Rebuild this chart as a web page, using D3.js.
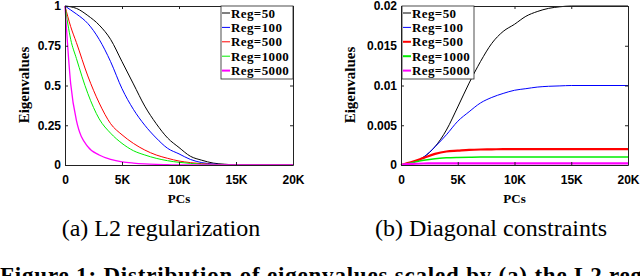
<!DOCTYPE html>
<html>
<head>
<meta charset="utf-8">
<script src="https://cdn.jsdelivr.net/npm/d3@7"></script>
<style>
  body { margin: 0; background: #fff; }
  svg { display: block; font-family: "Liberation Serif", "DejaVu Serif", serif; }
  .tick text { font-size: 12px; font-weight: bold; fill: #000; }
  .tick line { stroke: #222; }
  .domain { stroke: #222; }
</style>
</head>
<body>
<svg id="fig" width="640" height="276"></svg>
<script>
// data (PCs in units, eigenvalue)
var pcs = [0, 500, 1000, 2000, 3000, 4000, 5000, 6000, 7000, 8000, 9000, 10000, 11000, 12000, 13000, 14000, 15000, 20000];
var regNames = ["Reg=50", "Reg=100", "Reg=500", "Reg=1000", "Reg=5000"];
var regColors = ["#000000", "#0000ff", "#ff0000", "#00ee00", "#ff00ff"];

// (a) L2 regularization
var l2_reg50   = [1, 0.995, 0.985, 0.94, 0.88, 0.79, 0.65, 0.51, 0.37, 0.26, 0.17, 0.11, 0.055, 0.03, 0.012, 0.005, 0.001, 0];
var l2_reg100  = [1, 0.975, 0.95, 0.89, 0.79, 0.65, 0.48, 0.35, 0.25, 0.17, 0.105, 0.07, 0.035, 0.015, 0.006, 0.002, 0, 0];
var l2_reg500  = [1, 0.87, 0.77, 0.56, 0.39, 0.26, 0.19, 0.136, 0.094, 0.063, 0.042, 0.025, 0.015, 0.008, 0.004, 0.001, 0, 0];
var l2_reg1000 = [1, 0.79, 0.67, 0.45, 0.29, 0.2, 0.136, 0.09, 0.063, 0.042, 0.027, 0.017, 0.01, 0.005, 0.002, 0, 0, 0];
var l2_reg5000 = [1, 0.51, 0.28, 0.115, 0.063, 0.036, 0.02, 0.012, 0.007, 0.004, 0.002, 0, 0, 0, 0, 0, 0, 0];

// (b) Diagonal constraints
var dc_reg50   = [0, 0.0001, 0.0003, 0.001, 0.0023, 0.0044, 0.0073, 0.0103, 0.013, 0.0153, 0.0168, 0.0177, 0.0187, 0.0193, 0.0197, 0.0199, 0.02, 0.02];
var dc_reg100  = [0, 0.0001, 0.0003, 0.001, 0.0023, 0.0038, 0.0055, 0.0067, 0.0078, 0.0085, 0.009, 0.0094, 0.0096, 0.0098, 0.0099, 0.00995, 0.01, 0.01];
var dc_reg500  = [0, 0.0002, 0.0004, 0.0009, 0.0014, 0.0017, 0.0018, 0.0019, 0.00195, 0.00197, 0.002, 0.002, 0.002, 0.002, 0.002, 0.002, 0.002, 0.002];
var dc_reg1000 = [0, 0.00015, 0.0003, 0.0006, 0.0008, 0.0009, 0.00095, 0.00098, 0.001, 0.001, 0.001, 0.001, 0.001, 0.001, 0.001, 0.001, 0.001, 0.001];
var dc_reg5000 = [0, 0.0001, 0.00015, 0.00019, 0.0002, 0.0002, 0.0002, 0.0002, 0.0002, 0.0002, 0.0002, 0.0002, 0.0002, 0.0002, 0.0002, 0.0002, 0.0002, 0.0002];

var xTicks = [0, 5000, 10000, 15000, 20000];
var xTickLabels = ["0", "5K", "10K", "15K", "20K"];
var l2Ticks = [0, 0.25, 0.5, 0.75, 1];
var l2TickLabels = ["0", "0.25", "0.5", "0.75", "1"];
var dcTicks = [0, 0.005, 0.01, 0.015, 0.02];
var dcTickLabels = ["0", "0.005", "0.01", "0.015", "0.02"];

var svg = d3.select("#fig");

function drawPanel(opt) {
    var x = d3.scaleLinear().domain([0, 20000]).range([opt.left, opt.right]);
    var y = d3.scaleLinear().domain(opt.yDomain).range([165, 6]);
    var g = svg.append("g");

    // curves
    opt.series.forEach(function (s, i) {
        var line = d3.line()
            .x(function (d, j) { return x(pcs[j]); })
            .y(function (d) { return y(d); })
            .curve(d3.curveMonotoneX);
        g.append("path")
            .datum(s)
            .attr("fill", "none")
            .attr("stroke", regColors[i])
            .attr("stroke-width", opt.widths[i])
            .attr("d", line);
    });

    // box, matlab style with inward ticks
    g.append("g")
        .attr("transform", "translate(0,165)")
        .call(d3.axisBottom(x).tickValues(xTicks).tickSize(-3).tickSizeOuter(0).tickPadding(10)
            .tickFormat(function (d, i) { return xTickLabels[i]; }));
    g.append("g")
        .attr("transform", "translate(0,6)")
        .call(d3.axisTop(x).tickValues(xTicks).tickSize(-3).tickSizeOuter(0).tickFormat(""));
    g.append("g")
        .attr("transform", "translate(" + opt.left + ",0)")
        .call(d3.axisLeft(y).tickValues(opt.yTicks).tickSize(-3).tickSizeOuter(0).tickPadding(4)
            .tickFormat(function (d, i) { return opt.yTickLabels[i]; }));
    g.append("g")
        .attr("transform", "translate(" + opt.right + ",0)")
        .call(d3.axisRight(y).tickValues(opt.yTicks).tickSize(-3).tickSizeOuter(0).tickFormat(""));

    // axis titles
    g.append("text")
        .attr("x", (opt.left + opt.right) / 2)
        .attr("y", 203)
        .attr("text-anchor", "middle")
        .style("font-size", "13px").style("font-weight", "bold")
        .text("PCs");
    g.append("text")
        .attr("transform", "translate(" + opt.yLabelX + ",85) rotate(-90)")
        .attr("text-anchor", "middle")
        .style("font-size", "15px").style("font-weight", "bold")
        .text("Eigenvalues");

    // legend
    var lg = g.append("g");
    lg.append("rect")
        .attr("x", opt.legendX).attr("y", 6)
        .attr("width", opt.legendW).attr("height", 73)
        .attr("fill", "#fff").attr("stroke", "#222").attr("stroke-width", 0.8);
    regNames.forEach(function (name, i) {
        var ly = 13 + i * 14.4;
        lg.append("line")
            .attr("x1", opt.legendX + 1).attr("x2", opt.legendX + 9)
            .attr("y1", ly).attr("y2", ly)
            .attr("stroke", regColors[i]).attr("stroke-width", opt.widths[i] > 1 ? 2 : 1);
        lg.append("text")
            .attr("x", opt.legendX + 10).attr("y", ly + 4.5)
            .style("font-size", "13px").style("font-weight", "bold")
            .style("letter-spacing", "0.4px")
            .text(name);
    });

    // sub caption
    svg.append("text")
        .attr("x", opt.captionX).attr("y", 236)
        .attr("text-anchor", "middle")
        .style("font-size", "24px")
        .text(opt.caption);
}

drawPanel({
    left: 65, right: 293, yDomain: [0, 1],
    yTicks: l2Ticks, yTickLabels: l2TickLabels,
    series: [l2_reg50, l2_reg100, l2_reg500, l2_reg1000, l2_reg5000],
    widths: [1, 1, 1, 1, 1.3],
    yLabelX: 29, legendX: 221, legendW: 72,
    captionX: 161, caption: "(a) L2 regularization"
});

drawPanel({
    left: 401, right: 628, yDomain: [0, 0.02],
    yTicks: dcTicks, yTickLabels: dcTickLabels,
    series: [dc_reg50, dc_reg100, dc_reg500, dc_reg1000, dc_reg5000],
    widths: [1, 1, 2.2, 1.5, 2.2],
    yLabelX: 355, legendX: 402, legendW: 72,
    captionX: 491, caption: "(b) Diagonal constraints"
});

svg.append("text")
    .attr("x", 0).attr("y", 283)
    .style("font-size", "23px").style("font-weight", "bold")
    .style("letter-spacing", "0.8px")
    .text("Figure 1: Distribution of eigenvalues scaled by (a) the L2 regularization");
</script>
</body>
</html>
